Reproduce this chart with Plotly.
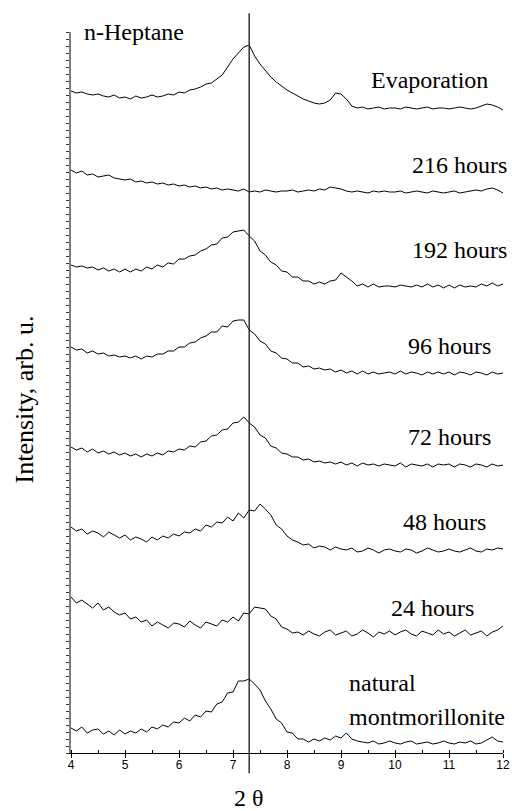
import plotly.graph_objects as go

two_theta = [4.0, 4.1, 4.2, 4.3, 4.4, 4.5, 4.6, 4.7, 4.8, 4.9,
             5.0, 5.1, 5.2, 5.3, 5.4, 5.5, 5.6, 5.7, 5.8, 5.9,
             6.0, 6.1, 6.2, 6.3, 6.4, 6.5, 6.6, 6.7, 6.8, 6.9,
             7.0, 7.1, 7.2, 7.3, 7.4, 7.5, 7.6, 7.7, 7.8, 7.9,
             8.0, 8.1, 8.2, 8.3, 8.4, 8.5, 8.6, 8.7, 8.8, 8.9,
             9.0, 9.1, 9.2, 9.3, 9.4, 9.5, 9.6, 9.7, 9.8, 9.9,
             10.0, 10.1, 10.2, 10.3, 10.4, 10.5, 10.6, 10.7, 10.8, 10.9,
             11.0, 11.1, 11.2, 11.3, 11.4, 11.5, 11.6, 11.7, 11.8, 11.9,
             12.0]

evaporation = [662, 660, 661, 659, 658, 659, 657, 656, 658, 655,
               656, 654, 657, 655, 656, 658, 656, 657, 659, 658,
               661, 660, 663, 664, 666, 669, 670, 674, 678, 686,
               694, 700, 706, 708, 697, 689, 682, 676, 671, 667,
               663, 660, 657, 654, 652, 650, 649, 650, 653, 660,
               659, 654, 647, 645, 646, 644, 645, 646, 644, 645,
               645, 644, 646, 645, 644, 645, 646, 644, 645, 645,
               644, 645, 646, 645, 644, 645, 647, 649, 648, 646,
               643]

h216 = [583, 580, 582, 578, 579, 576, 577, 578, 575, 574,
        573, 574, 571, 572, 570, 571, 569, 570, 568, 569,
        567, 568, 566, 567, 565, 566, 564, 565, 563, 564,
        563, 562, 564, 561, 562, 561, 563, 562, 561, 562,
        562, 563, 561, 562, 563, 562, 564, 563, 566, 565,
        564, 562, 561, 562, 561, 560, 562, 561, 562, 561,
        561, 562, 560, 561, 562, 561, 560, 562, 561, 560,
        561, 562, 560, 561, 562, 563, 562, 564, 565, 563,
        560]

h192 = [488, 486, 487, 485, 486, 483, 485, 482, 484, 481,
        484, 481, 484, 482, 486, 484, 488, 486, 490, 489,
        494, 494, 497, 498, 502, 504, 508, 509, 515, 516,
        521, 522, 523, 517, 512, 502, 498, 491, 488, 482,
        481, 476, 476, 472, 472, 469, 471, 469, 472, 473,
        480, 476, 472, 467, 469, 466, 469, 466, 467, 467,
        466, 468, 467, 466, 468, 466, 469, 466, 468, 465,
        468, 465, 468, 466, 467, 466, 469, 467, 470, 467,
        469]

h96 = [406, 403, 404, 400, 402, 399, 400, 397, 398, 396,
       397, 395, 397, 394, 397, 396, 399, 399, 402, 402,
       406, 406, 410, 411, 415, 417, 421, 421, 427, 426,
       432, 433, 433, 423, 419, 412, 409, 402, 400, 395,
       394, 390, 390, 386, 387, 384, 385, 383, 384, 381,
       383, 380, 382, 379, 382, 379, 381, 379, 380, 381,
       379, 382, 379, 381, 380, 378, 381, 379, 381, 379,
       381, 378, 381, 380, 378, 381, 380, 378, 381, 379,
       380]

h72 = [306, 303, 305, 301, 304, 300, 302, 299, 301, 298,
       300, 297, 299, 296, 299, 297, 300, 298, 302, 301,
       304, 303, 307, 306, 311, 312, 317, 318, 323, 324,
       330, 331, 336, 330, 326, 318, 315, 307, 305, 300,
       299, 296, 296, 293, 294, 291, 292, 290, 291, 289,
       291, 288, 290, 287, 290, 288, 289, 287, 289, 288,
       287, 290, 286, 289, 288, 287, 289, 286, 289, 288,
       289, 286, 289, 288, 286, 289, 288, 286, 289, 287,
       288]

h48 = [226, 222, 224, 219, 222, 220, 216, 221, 218, 215,
       218, 213, 216, 214, 211, 216, 213, 217, 215, 219,
       217, 221, 220, 224, 222, 228, 226, 231, 230, 236,
       232, 240, 235, 243, 242, 249, 244, 238, 228, 224,
       217, 213, 211, 208, 209, 205, 207, 206, 203, 206,
       204, 203, 205, 201, 202, 205, 203, 200, 203, 204,
       202, 201, 204, 203, 200, 202, 205, 203, 201, 202,
       204, 202, 201, 203, 205, 202, 201, 204, 203, 205,
       204]

h24 = [156, 150, 153, 149, 145, 150, 143, 146, 141, 138,
       140, 134, 136, 131, 133, 127, 131, 128, 125, 130,
       129, 126, 132, 128, 125, 131, 129, 127, 133, 131,
       136, 132, 140, 139, 146, 145, 144, 137, 134, 126,
       124, 120, 121, 118, 122, 119, 117, 121, 123, 118,
       120, 122, 117, 119, 123, 120, 116, 121, 119, 122,
       118, 121, 123, 119, 117, 122, 120, 118, 123, 119,
       121, 117, 120, 123, 118, 120, 122, 117, 121, 123,
       127]

natural = [25, 22, 26, 20, 23, 24, 19, 22, 18, 23,
           19, 22, 20, 24, 21, 26, 24, 28, 26, 31,
           30, 35, 32, 38, 36, 42, 41, 49, 51, 60,
           61, 72, 72, 74, 69, 63, 52, 44, 34, 30,
           21, 20, 14, 14, 11, 14, 12, 15, 13, 17,
           15, 20, 14, 12, 11, 10, 12, 9, 10, 12,
           10, 9, 11, 12, 9, 10, 11, 9, 10, 12,
           10, 9, 11, 10, 12, 9, 10, 13, 16, 12,
           11]

series = [evaporation, h216, h192, h96, h72, h48, h24, natural]
x_ticks = [4, 5, 6, 7, 8, 9, 10, 11, 12]
marker_line = 7.3

serif = "Liberation Serif"
sans = "Liberation Sans"

fig = go.Figure()
for s in series:
    fig.add_trace(go.Scatter(x=two_theta, y=s, mode="lines",
                             line=dict(color="black", width=1),
                             showlegend=False, hoverinfo="skip"))

fig.add_shape(type="line", xref="x", yref="paper", x0=marker_line, x1=marker_line,
              y0=-0.028, y1=1.026, line=dict(color="#333333", width=1.5))

labels = [
    ("Evaporation", 0.970, 673),
    ("216 hours", 1.014, 588),
    ("192 hours", 1.014, 503),
    ("96 hours", 0.977, 407),
    ("72 hours", 0.977, 316),
    ("48 hours", 0.965, 231),
    ("24 hours", 0.937, 145),
]
for txt, xp, yv in labels:
    fig.add_annotation(text=txt, xref="paper", x=xp, yref="y", y=yv,
                       xanchor="right", yanchor="middle", showarrow=False,
                       font=dict(family=serif, size=24, color="black"))
for txt, yv in [("natural", 70), ("montmorillonite", 36)]:
    fig.add_annotation(text=txt, xref="paper", x=0.639, yref="y", y=yv,
                       xanchor="left", yanchor="middle", showarrow=False,
                       font=dict(family=serif, size=24, color="black"))
fig.add_annotation(text="n-Heptane", xref="paper", x=0.025, yref="y", y=721,
                   xanchor="left", yanchor="middle", showarrow=False,
                   font=dict(family=serif, size=24, color="black"))
fig.add_annotation(text="2 θ", xref="x", x=marker_line, yref="paper", y=-0.062,
                   xanchor="center", yanchor="middle", showarrow=False,
                   font=dict(family=serif, size=24, color="black"))
fig.add_annotation(text="Intensity, arb. u.", xref="paper", x=-0.107, yref="paper", y=0.49,
                   xanchor="center", yanchor="middle", showarrow=False, textangle=-90,
                   font=dict(family=serif, size=26, color="black"))

fig.update_layout(
    width=512, height=811, autosize=False,
    margin=dict(l=71, r=9, t=32, b=58),
    plot_bgcolor="white", paper_bgcolor="white",
    xaxis=dict(range=[4, 12], tickvals=x_ticks, showgrid=False, zeroline=False,
               automargin=False,
               showline=True, linecolor="black", linewidth=1,
               ticks="outside", ticklen=4, tickcolor="black", ticklabelstandoff=-3,
               minor=dict(dtick=0.5, ticks="inside", ticklen=3, tickcolor="black"),
               tickfont=dict(family=sans, size=12, color="black")),
    yaxis=dict(range=[0, 721], showticklabels=False, showgrid=False, zeroline=False,
               automargin=False,
               showline=True, linecolor="#808080", linewidth=2,
               ticks="outside", ticklen=3, tickcolor="#333333", dtick=7),
)

fig.write_html("out.html",
               config={"responsive": False, "displayModeBar": False},
               post_script="document.body.style.margin='0';document.body.style.overflow='hidden';")
